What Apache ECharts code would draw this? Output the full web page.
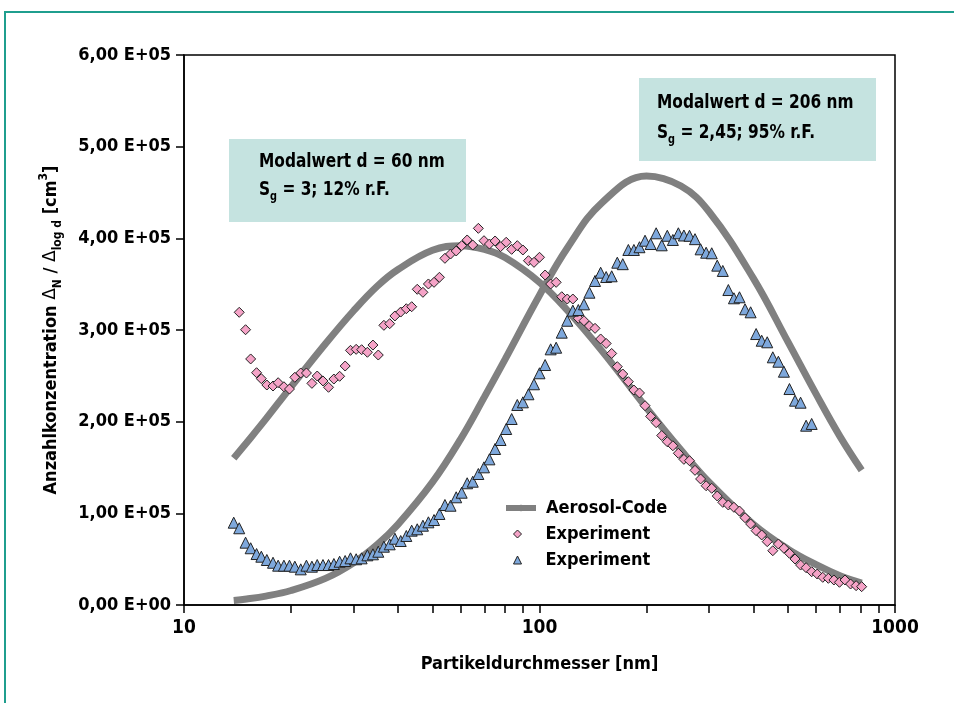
<!DOCTYPE html>
<html>
<head>
<meta charset="utf-8">
<script src="https://cdn.jsdelivr.net/npm/echarts@6/dist/echarts.min.js"></script>
<style>
  html, body { margin: 0; padding: 0; background: #fff; }
  #myChart { width: 954px; height: 703px; }
</style>
</head>
<body>
<div id="myChart"></div>
<script>
var FONT = '"Liberation Sans Narrow", "DejaVu Sans Condensed", sans-serif';

// SMPS channel diameters [nm], 64 channels per decade
var diameters = [13.8, 14.3, 14.9, 15.4, 16.0, 16.5, 17.1, 17.8, 18.4, 19.1, 19.8, 20.5, 21.3, 22.1, 22.9, 23.7,
  24.6, 25.5, 26.4, 27.4, 28.4, 29.4, 30.5, 31.6, 32.8, 34.0, 35.2, 36.5, 37.9, 39.2, 40.7, 42.2, 43.7, 45.3,
  47.0, 48.7, 50.5, 52.3, 54.2, 56.2, 58.3, 60.4, 62.6, 64.9, 67.3, 69.8, 72.3, 75.0, 77.7, 80.6, 83.5, 86.6,
  89.8, 93.1, 96.5, 100.0, 103.7, 107.5, 111.4, 115.5, 119.7, 124.1, 128.6, 133.4, 138.2, 143.3, 148.6, 154.0,
  159.6, 165.5, 171.5, 177.8, 184.3, 191.1, 198.1, 205.4, 212.9, 220.7, 228.8, 237.2, 245.8, 254.8, 264.2,
  273.8, 283.9, 294.3, 305.1, 316.2, 327.8, 339.8, 352.3, 365.2, 378.6, 392.5, 406.8, 421.7, 437.1, 453.2,
  469.8, 487.0, 504.8, 523.3, 542.5, 562.3, 582.9, 604.3, 626.4, 649.4, 673.2, 697.8, 723.4, 749.9, 777.4, 805.8];

// experiment 12% r.F. (pink diamonds), starts at diameters[1]
var exp12 = [319300, 300300, 268400, 253400, 246900, 240000, 238900, 242500, 238100, 235600,
  248400, 253100, 253100, 241800, 249800, 244400, 237500, 246500, 249500, 260700,
  277800, 278900, 278500, 275700, 283600, 272700, 305100, 306900, 315300, 319600,
  323200, 325400, 344400, 341100, 350200, 352000, 357500, 378200, 382900, 386200,
  392000, 398200, 392700, 410900, 397400, 393800, 397100, 390900, 395700, 388000,
  392000, 387300, 375600, 373800, 379300, 360000, 350200, 352000, 336300, 333800,
  333800, 312800, 310100, 304400, 301800, 290200, 285300, 274400, 260000, 252000,
  243600, 234500, 231300, 217400, 205800, 198900, 184900, 178100, 173700, 165500,
  158900, 157400, 146900, 137500, 130100, 127300, 118900, 112000, 109100, 106600,
  102500, 95200, 88400, 81100, 76400, 69100, 59200, 66500, 61900, 56400,
  50200, 43600, 40700, 36300, 33800, 30200, 29100, 27300, 24800, 27300,
  22900, 21100, 20000];

// experiment 95% r.F. (blue triangles), starts at diameters[0]
var exp95 = [89800, 83700, 68000, 61900, 55600, 52700, 49100, 46100, 42900, 42900,
  42900, 41800, 38900, 42900, 41800, 43600, 43600, 43600, 44700, 47200,
  48000, 50900, 49900, 50900, 54200, 55300, 58100, 63600, 66200, 72300,
  69800, 75300, 81100, 82600, 86500, 90200, 92700, 99300, 109100, 108300,
  117500, 122500, 132800, 134500, 142900, 150200, 158900, 170200, 180000, 192000,
  202900, 218200, 221100, 229900, 240800, 252800, 261800, 278900, 280700, 297100,
  310100, 321100, 321800, 328000, 340700, 353500, 362500, 357800, 358600, 373400,
  371800, 387300, 387300, 390300, 397400, 393800, 405500, 392400, 402800, 398200,
  405500, 403100, 402800, 399100, 388000, 384300, 383700, 370200, 364400, 343600,
  334600, 335700, 322600, 319300, 295600, 288300, 286600, 270200, 265400, 254500,
  235600, 222900, 220700, 195600, 197500];

// Aerosol-Code curves
var modelD = [13.8, 15, 17, 20, 25, 30, 35, 40, 50, 60, 70, 80, 100, 120, 150, 200, 250, 300, 400, 500, 600, 700, 805.8];
var model60 = [160000, 177000, 203000, 238000, 285000, 321000, 348000, 366000, 387000, 392000, 388000, 379000,
  352000, 321000, 277000, 215000, 169000, 134000, 88000, 61000, 44000, 32000, 24000];
var model206 = [5000, 6500, 9700, 15800, 29000, 46000, 66000, 88000, 134000, 181000, 227000, 268000,
  338000, 390000, 439000, 468000, 457000, 429000, 356000, 287000, 230000, 184000, 147000];

var yTickLabels = ['0,00 E+00', '1,00 E+05', '2,00 E+05', '3,00 E+05', '4,00 E+05', '5,00 E+05', '6,00 E+05'];
var xTickLabels = ['10', '100', '1000'];
var minorTicks = [20, 30, 40, 50, 60, 70, 80, 90, 200, 300, 400, 500, 600, 700, 800, 900];
var legendLabels = { 'Aerosol-Code': 'Aerosol-Code', 'Experiment 12%': 'Experiment', 'Experiment 95%': 'Experiment' };

function pairs(xs, ys, offset) {
  return ys.map(function (v, i) { return [xs[i + offset], v]; });
}

var chartDom = document.getElementById('myChart');
var myChart = echarts.init(chartDom, null, { renderer: 'canvas' });
var option;

var subStyle = { fontFamily: FONT, fontWeight: 'bold', fontSize: 12, lineHeight: 12, verticalAlign: 'bottom', color: '#000' };
var supStyle = { fontFamily: FONT, fontWeight: 'bold', fontSize: 12, lineHeight: 12, verticalAlign: 'top', color: '#000' };
var txtStyle = { fontFamily: FONT, fontWeight: 'bold', fontSize: 19, lineHeight: 26, color: '#000' };
var legendText = { fontFamily: FONT, fontWeight: 'bold', fontSize: 18, lineHeight: 26, color: '#000' };

option = {
  animation: false,
  backgroundColor: '#fff',
  textStyle: { fontFamily: FONT },
  grid: {
    left: 184, right: 59, top: 55, bottom: 98,
    show: true, borderColor: '#000', borderWidth: 1.5
  },
  legend: [
    {
      // model line
      orient: 'vertical',
      left: 498,
      top: 490,
      itemWidth: 30,
      itemHeight: 8,
      itemGap: 0,
      data: ['Aerosol-Code'],
      lineStyle: { width: 6 },
      textStyle: Object.assign({ padding: [0, 0, 0, 5] }, legendText)
    },
    {
      // experiment markers
      orient: 'vertical',
      left: 508,
      top: 516,
      itemWidth: 8,
      itemHeight: 8,
      itemGap: 0,
      data: ['Experiment 12%', 'Experiment 95%'],
      formatter: function (name) { return legendLabels[name]; },
      itemStyle: { borderWidth: 1 },
      textStyle: Object.assign({ padding: [0, 0, 0, 19] }, legendText)
    }
  ],
  xAxis: [
    {
      type: 'log',
      logBase: 10,
      min: 10,
      max: 1000,
      name: 'Partikeldurchmesser [nm]',
      nameLocation: 'middle',
      nameGap: 50,
      nameTextStyle: { fontFamily: FONT, fontWeight: 'bold', fontSize: 18, color: '#000' },
      axisLine: { lineStyle: { color: '#000', width: 1.5 } },
      axisTick: { length: 8, lineStyle: { color: '#000', width: 1.5 } },
      axisLabel: {
        margin: 14,
        fontFamily: FONT, fontWeight: 'bold', fontSize: 19, color: '#000',
        formatter: function (v) { return xTickLabels[Math.round(Math.log10(v)) - 1]; }
      },
      splitLine: { show: false }
    },
    {
      // only carries the minor log ticks
      type: 'value',
      min: 1,
      max: 3,
      position: 'bottom',
      axisLine: { show: false },
      axisLabel: { show: false },
      splitLine: { show: false },
      axisTick: { show: true, length: 8, customValues: minorTicks.map(Math.log10), lineStyle: { color: '#000', width: 1.5 } }
    }
  ],
  yAxis: {
    type: 'value',
    min: 0,
    max: 600000,
    interval: 100000,
    name: 'Anzahlkonzentration {d|Δ}{s|N} / {d|Δ}{s|log d} [cm{p|3}]',
    nameLocation: 'middle',
    nameRotate: 90,
    nameGap: 120,
    nameMoveOverlap: false,
    nameTextStyle: {
      fontFamily: FONT, fontWeight: 'bold', fontSize: 18, lineHeight: 26, color: '#000',
      rich: {
        d: { fontFamily: 'DejaVu Sans', fontWeight: 'normal', fontSize: 17, lineHeight: 26, color: '#000' },
        s: subStyle,
        p: supStyle
      }
    },
    axisLine: { show: true, lineStyle: { color: '#000', width: 1.5 } },
    axisTick: { show: true, length: 8, lineStyle: { color: '#000', width: 1.5 } },
    axisLabel: {
      margin: 13,
      fontFamily: FONT, fontWeight: 'bold', fontSize: 18, color: '#000',
      formatter: function (v) { return yTickLabels[Math.round(v / 100000)]; }
    },
    splitLine: { show: false }
  },
  graphic: [
    { type: 'rect', silent: true, z: -10, shape: { x: 5, y: 12, width: 1000, height: 1000 },
      style: { fill: 'none', stroke: '#1f9e8e', lineWidth: 2 } },
    { type: 'rect', silent: true, shape: { x: 229, y: 139, width: 237, height: 83 }, style: { fill: '#c5e3e0' } },
    { type: 'text', silent: true, x: 259, y: 162, scaleX: 0.9,
      style: { text: 'Modalwert d = 60 nm', fontFamily: FONT, fontWeight: 'bold', fontSize: 19, fill: '#000', verticalAlign: 'middle' } },
    { type: 'text', silent: true, x: 259, y: 190, scaleX: 0.9,
      style: { text: '{t|S}{s|g}{t| = 3; 12% r.F.}', verticalAlign: 'middle', rich: { t: txtStyle, s: subStyle } } },
    { type: 'rect', silent: true, shape: { x: 639, y: 78, width: 237, height: 83 }, style: { fill: '#c5e3e0' } },
    { type: 'text', silent: true, x: 657, y: 103, scaleX: 0.9,
      style: { text: 'Modalwert d = 206 nm', fontFamily: FONT, fontWeight: 'bold', fontSize: 19, fill: '#000', verticalAlign: 'middle' } },
    { type: 'text', silent: true, x: 657, y: 133, scaleX: 0.9,
      style: { text: '{t|S}{s|g}{t| = 2,45; 95% r.F.}', verticalAlign: 'middle', rich: { t: txtStyle, s: subStyle } } }
  ],
  series: [
    {
      name: 'Aerosol-Code',
      type: 'line',
      data: pairs(modelD, model60, 0),
      symbol: 'none',
      smooth: 0.4,
      lineStyle: { color: '#808080', width: 7, cap: 'butt' },
      itemStyle: { color: '#808080' },
      z: 2
    },
    {
      name: 'Aerosol-Code',
      type: 'line',
      data: pairs(modelD, model206, 0),
      symbol: 'none',
      smooth: 0.4,
      lineStyle: { color: '#808080', width: 7, cap: 'butt' },
      itemStyle: { color: '#808080' },
      z: 2
    },
    {
      name: 'Experiment 12%',
      type: 'scatter',
      data: pairs(diameters, exp12, 1),
      symbol: 'diamond',
      symbolSize: 10,
      itemStyle: { color: '#f5a3c7', borderColor: '#222', borderWidth: 1, opacity: 1 },
      z: 3
    },
    {
      name: 'Experiment 95%',
      type: 'scatter',
      data: pairs(diameters, exp95, 0),
      symbol: 'triangle',
      symbolSize: 11,
      itemStyle: { color: '#7ea8dc', borderColor: '#222', borderWidth: 1, opacity: 1 },
      z: 3
    }
  ]
};

option && myChart.setOption(option);
</script>
</body>
</html>
